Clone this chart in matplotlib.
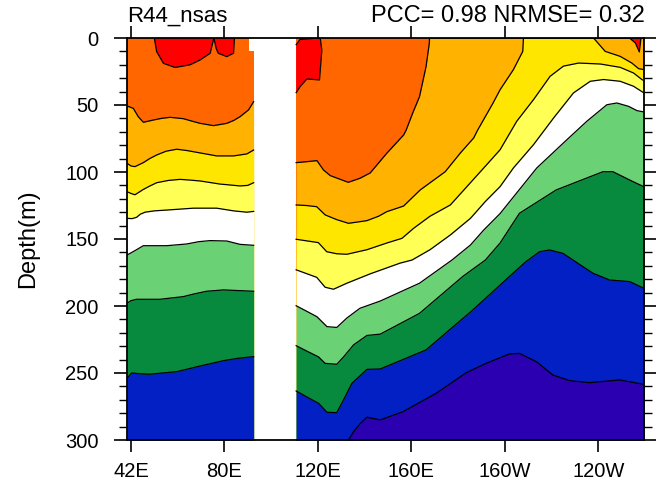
import matplotlib
matplotlib.use('Agg')
import matplotlib.pyplot as plt

plt.rcParams['font.family'] = ['Liberation Sans', 'DejaVu Sans']

# granice wykresu
lon_min = 38.3
lon_max = 259.6
gap_w = 92.5
gap_e = 110.7

xtick_pos = [40, 80, 120, 160, 200, 240]
xtick_lab = ['42E', '80E', '120E', '160E', '160W', '120W']
ytick_pos = [0, 50, 100, 150, 200, 250, 300]

# kolory warstw
c_red = '#FF0000'
c_orange = '#FF6600'
c_amber = '#FFB300'
c_yellow = '#FFE600'
c_lyellow = '#FFFF55'
c_white = '#FFFFFF'
c_lgreen = '#6AD275'
c_dgreen = '#078A3E'
c_blue = '#0220C4'
c_purple = '#2A00B0'

# zachodnia czesc - glebokosc izoterm
wa_lon = [38.3, 41, 43.1, 45.3, 49.6, 53, 56.7, 62.4, 66, 69.6, 75.3, 81, 84, 86.7, 90.3, 92.5]
wa_dep = [50.7, 52.5, 58.7, 62.9, 61.2, 60, 59.2, 60.2, 62, 63.7, 65.4, 63.7, 61.5, 58.7, 53.7, 47.5]
wb_lon = [38.3, 40, 41.7, 45.3, 48, 51, 55, 59.6, 64, 68.1, 76.7, 83.9, 89.6, 92.5]
wb_dep = [93.5, 95.5, 96, 93, 90, 87.3, 84.5, 83, 84, 85.3, 88, 88, 86.5, 83.6]
wc_lon = [38.3, 40, 41.7, 45.3, 48, 51, 56, 61, 65, 69.6, 78.1, 86.7, 90, 92.5]
wc_dep = [114.7, 116, 117, 113, 110.5, 108, 106.3, 105.5, 106, 106.7, 109, 110.4, 110, 108]
wd_lon = [38.3, 40.5, 42.4, 44, 46, 50, 55.3, 66.7, 76.7, 83.9, 89.6, 92.5]
wd_dep = [134.6, 134.8, 133.8, 131.5, 130, 129, 128.4, 127, 127, 129, 130, 129.4]
we_lon = [38.3, 41.7, 45.3, 55.3, 63.9, 69, 73.9, 81, 86.7, 92.5]
we_dep = [162, 158.7, 155, 155, 153.7, 152, 151.2, 151.5, 154, 154.7]
wf_lon = [38.3, 40, 42.4, 52.4, 62.4, 67, 72.4, 79.6, 92.5]
wf_dep = [198, 196, 195, 195, 193, 191, 189, 188, 189]
wg_lon = [38.3, 40.3, 44, 48.1, 59.6, 69.6, 79.6, 86, 92.5]
wg_dep = [254, 250, 250.6, 250.9, 249, 244.8, 240.8, 239, 237.8]

# wschodnia czesc
ea_lon = [110.7, 115.3, 119.6, 122.4, 125.3, 129.6, 133, 138, 142.4, 149.5, 156.7, 157.8, 160.6, 163.5, 166.3, 167.7, 167.8, 259.6]
ea_dep = [93, 92.3, 91.5, 98.5, 102.7, 105.5, 107.7, 104.7, 100.7, 86, 72.4, 68.7, 56, 43.8, 21.4, 4, 0, 0]
eb_lon = [110.7, 115, 119.5, 123.1, 128, 133.1, 141, 146, 149.5, 156.7, 163.8, 174.5, 181, 186.7, 188.4, 194.9, 198, 203.7, 207.7, 208, 259.6]
eb_dep = [124.6, 125, 125.9, 132, 135.5, 138.3, 136.3, 133, 129.6, 125.4, 113.4, 99.8, 85.8, 74.6, 68.7, 48.8, 38.6, 23.6, 10, 0, 0]
ec_lon = [110.7, 120.2, 123.8, 128, 132.4, 141, 149.5, 156, 161, 168, 176.7, 183.8, 191, 198, 205.1, 212.3, 219.4, 225.1, 231.6, 240.9, 249.4, 255.1, 258.7, 259.6]
ec_dep = [150.2, 152.7, 159.5, 161, 161.4, 158, 153, 149.5, 142, 133, 124.6, 110.9, 97, 83.4, 62.2, 46, 28.6, 21, 18.7, 19.4, 21.9, 26.1, 31, 31.8]
ed_lon = [110.7, 119.5, 123.1, 126.7, 132.4, 142.4, 155.2, 160.3, 168, 176.7, 185.3, 191.7, 198, 203.7, 212.3, 220.9, 229.4, 236.6, 242.3, 249.4, 255.1, 259.6]
ed_dep = [173, 178.6, 186, 187.5, 183, 176, 168, 165.7, 158, 147, 134.6, 122, 110.9, 97, 79.6, 59.7, 41, 32.3, 31, 32.3, 36, 41]
ee_lon = [110.7, 115.3, 119.6, 123.9, 128.1, 132.4, 138, 146.7, 163.5, 177.4, 185.3, 191, 198, 213.7, 226.6, 235.1, 243.7, 248, 253, 256.6, 259.6]
ee_dep = [199.8, 204, 208, 215.4, 216, 209, 201.7, 196.3, 183, 165.7, 154.5, 143.3, 131, 97, 75.9, 62.2, 49.8, 48.5, 51, 54.2, 55.2]
ef_lon = [110.7, 115.3, 120.3, 123.1, 128.1, 131, 135.3, 141, 146.7, 163.5, 182, 191.7, 198, 206.3, 222, 242, 246.3, 254.9, 259.6]
ef_dep = [229.6, 233.7, 238, 242.8, 243.5, 238, 229, 222, 221, 205.5, 178, 165.7, 153, 130.8, 113.4, 99.8, 99.8, 107.2, 111]
eg_lon = [110.7, 115.3, 120.3, 123.9, 128.1, 131, 134.6, 141, 146.7, 166.3, 186.3, 202, 209, 214.9, 219.2, 224.9, 237.8, 244.9, 253.5, 259.6]
eg_dep = [263.4, 267.9, 272.6, 279.3, 279.6, 270, 257.7, 247.3, 247, 232.8, 203, 178, 167, 159.5, 158.2, 160.7, 175.6, 180.6, 181.8, 186.8]
eh_lon = [133.1, 135.3, 138, 141, 146.7, 156.3, 170.6, 183.5, 192, 202, 206.3, 213.5, 220.6, 227.8, 236.3, 249.2, 259.6]
eh_dep = [300, 293.8, 288, 283, 285, 279, 265.2, 249.8, 242.8, 235.8, 235.4, 241.5, 251.5, 255.7, 257.2, 255.2, 258.5]

# zamkniete obszary przy powierzchni
rw_lon = [50, 51, 53.9, 58.9, 65.3, 69.6, 73.9, 75.5, 76.5, 77.4, 81, 83.9, 84.3]
rw_dep = [0, 10.2, 18.9, 22, 20, 16.4, 11.4, 0, 8, 11.4, 13.9, 11.4, 0]
re_lon = [110.7, 112.4, 121, 121.7, 120.7, 115.3, 112.4, 110.7]
re_dep = [5, 1, 0, 9, 31.3, 30.6, 36.3, 40.8]
ap_lon = [238, 243, 249.4, 254.4, 257.3, 259.6, 259.6]
ap_dep = [0, 10, 13.7, 18.7, 22.9, 23.6, 0]
rp_lon = [253.4, 255.9, 257.6, 258.3, 259.6]
rp_dep = [0, 3.7, 10.4, 0, 0]

west = [(wa_lon, wa_dep, c_amber), (wb_lon, wb_dep, c_yellow), (wc_lon, wc_dep, c_lyellow),
        (wd_lon, wd_dep, c_white), (we_lon, we_dep, c_lgreen), (wf_lon, wf_dep, c_dgreen),
        (wg_lon, wg_dep, c_blue)]
east = [(ea_lon, ea_dep, c_amber), (eb_lon, eb_dep, c_yellow), (ec_lon, ec_dep, c_lyellow),
        (ed_lon, ed_dep, c_white), (ee_lon, ee_dep, c_lgreen), (ef_lon, ef_dep, c_dgreen),
        (eg_lon, eg_dep, c_blue), (eh_lon, eh_dep, c_purple)]

fig = plt.figure(figsize=(6.56, 4.82), dpi=100)
ax = fig.add_axes([127 / 656, 1 - 440 / 482, (644 - 127) / 656, (440 - 38) / 482])

# tlo - pomaranczowa warstwa przy powierzchni
ax.fill([lon_min, 90.6, 90.6, gap_w, gap_w, lon_min], [0, 0, 9.5, 9.5, 300, 300], color=c_orange, lw=0)
ax.fill([gap_e, lon_max, lon_max, gap_e], [0, 0, 300, 300], color=c_orange, lw=0)

# warstwy malowane od gory do dolu
for lon, dep, col in west + east:
    ax.fill_between(lon, dep, 300, color=col, lw=0)
    ax.plot(lon, dep, color='k', lw=0.9, solid_joinstyle='round')

for lon, dep, col in [(rw_lon, rw_dep, c_red), (re_lon, re_dep, c_red), (ap_lon, ap_dep, c_amber), (rp_lon, rp_dep, c_red)]:
    ax.fill(lon, dep, color=col, lw=0)
    ax.plot(lon, dep, color='k', lw=0.9, solid_joinstyle='round')

ax.set_xlim(lon_min, lon_max)
ax.set_ylim(300, 0)
ax.set_xticks(xtick_pos)
ax.set_xticklabels(xtick_lab)
ax.set_yticks(ytick_pos)
ax.set_yticks(range(0, 301, 10), minor=True)
ax.tick_params(axis='both', which='major', direction='out', length=8.5, width=1.2, labelsize=14.5, top=True, right=True)
ax.tick_params(axis='y', which='major', length=9.5, pad=11)
ax.tick_params(axis='y', which='minor', direction='out', length=5.5, width=1, right=True)
ax.tick_params(axis='x', pad=7)
for s in ax.spines.values():
    s.set_linewidth(1.3)

ax.set_ylabel('Depth(m)', fontsize=17)
ax.yaxis.set_label_coords(-0.17, 0.5)
ax.text(0, 1.04, 'R44_nsas', transform=ax.transAxes, ha='left', va='baseline', fontsize=16)
ax.text(1.002, 1.04, 'PCC= 0.98 NRMSE= 0.32', transform=ax.transAxes, ha='right', va='baseline', fontsize=17)

fig.savefig('out.png', dpi=100)
